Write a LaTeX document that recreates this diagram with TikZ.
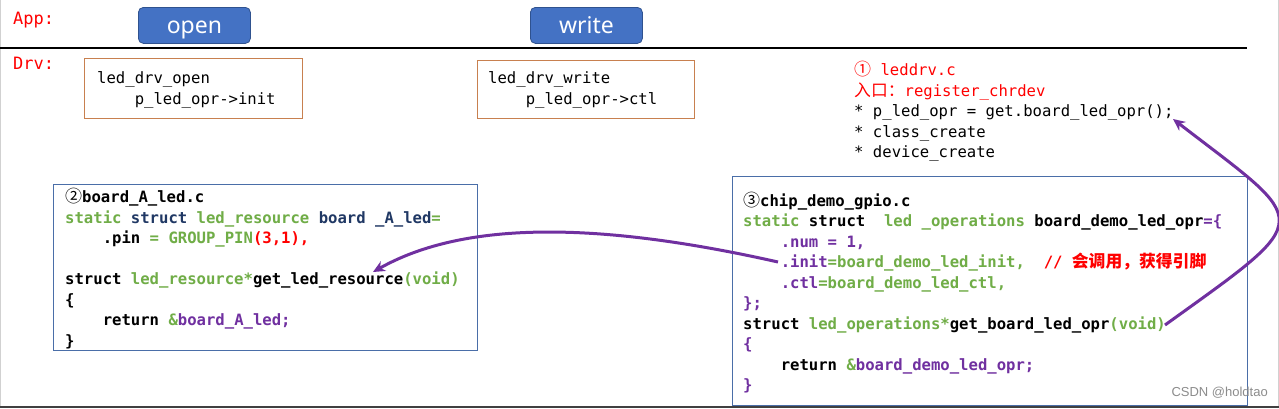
\documentclass[tikz,border=0pt]{standalone}
\usepackage{fontspec}
\usetikzlibrary{arrows.meta}
\newfontfamily\codefont{DejaVu Sans Mono}
\newfontfamily\cjk{Noto Sans CJK SC}
\newfontfamily\btnfont{Noto Sans}
\newfontfamily\wmfont{Liberation Sans}
\definecolor{cg}{HTML}{70AD47}
\definecolor{cn}{HTML}{203864}
\definecolor{cp}{HTML}{7030A0}
\definecolor{cr}{HTML}{FF0000}
\definecolor{btnblue}{HTML}{4472C4}
\definecolor{btnedge}{HTML}{2F528F}
\definecolor{orangeedge}{HTML}{C8804F}
\definecolor{blueedge}{HTML}{4A6EA8}
\newcommand\ind[1]{\phantom{#1}}
\newcommand\circnum[1]{{\cjk\mdseries\fontsize{17}{20.5}\selectfont #1}}
\newcommand\cjktext[1]{{\cjk\fontsize{16.8}{20.5}\selectfont #1}}
\begin{document}
\begin{tikzpicture}[x=1pt,y=-1pt,
  btn/.style={draw=btnedge, line width=0.8pt, fill=btnblue, rounded corners=5pt,
    minimum width=112pt, minimum height=36pt, anchor=north west, inner sep=0pt},
  btntext/.style={anchor=base, inner sep=0pt, text=white, font=\btnfont\fontsize{23}{26}\selectfont},
  label/.style={anchor=base west, inner sep=0pt, text=cr, font=\codefont\fontsize{17}{20}\selectfont},
  obox/.style={draw=orangeedge, line width=1.3pt, anchor=north west, inner sep=0pt},
  bbox/.style={draw=blueedge, line width=1.3pt, anchor=north west, inner sep=0pt},
  plaincode/.style={anchor=north west, inner sep=0pt, font=\codefont\fontsize{15.6}{20.5}\selectfont},
  boldcode/.style={anchor=north west, inner sep=0pt, font=\codefont\bfseries\fontsize{15.6}{20.5}\selectfont},
  arr/.style={draw=cp, line width=3pt, -{Stealth[length=12pt,width=11pt]}},
]
\useasboundingbox (0,0) rectangle (1279,408);
\fill[white] (0,0) rectangle (1279,408);
% slide frame
\draw[black!18, line width=1pt] (0.5,0) -- (0.5,408);
\draw[black!18, line width=1pt] (1278.5,0) -- (1278.5,408);
\fill[black!75] (0,406) rectangle (1279,408);

% App / Drv
\node[label] (app) at (13,24.5) {App:};
\node[label] (drv) at (13,69.5) {Drv:};
\draw[black, line width=2pt] (0,47.5) -- (1247,47.5);

% buttons
\node[btn] (openbtn) at (138,7) {};
\node[btntext] (opentxt) at (openbtn.center |- 0,33) {open};
\node[btn] (writebtn) at (530,7) {};
\node[btntext] (writetxt) at (writebtn.center |- 0,33) {write};

% driver boxes
\node[obox, minimum width=218pt, minimum height=60pt] (openbox) at (84,58) {};
\node[plaincode] (opencode) at (97,69.4) {\begin{tabular}{@{}l@{}}
led\_drv\_open\\
\ind{xxxx}p\_led\_opr->init
\end{tabular}};
\node[obox, minimum width=217pt, minimum height=58pt] (writebox) at (477,60) {};
\node[plaincode] (writecode) at (488,69.4) {\begin{tabular}{@{}l@{}}
led\_drv\_write\\
\ind{xxxx}p\_led\_opr->ctl
\end{tabular}};

% leddrv.c
\node[plaincode] (leddrv) at (854,61) {\begin{tabular}{@{}l@{}}
\textcolor{cr}{\circnum{①} leddrv.c}\\
\textcolor{cr}{\cjktext{入口：}register\_chrdev}\\
{*} p\_led\_opr = get.board\_led\_opr();\\
{*} class\_create\\
{*} device\_create
\end{tabular}};
\coordinate (oprref) at (1173,119);

% board_A_led.c
\node[bbox, minimum width=424pt, minimum height=166pt] (boxA) at (53,184) {};
\node[boldcode] (codeA) at (65,188.2) {\begin{tabular}{@{}l@{}}
\circnum{②}board\_A\_led.c\\
\textcolor{cg}{static} \textcolor{cn}{struct} \textcolor{cg}{led\_resource} \textcolor{cn}{board \_A\_led}\textcolor{cg}{=}\\
\ind{xxxx}.pin \textcolor{cg}{= GROUP\_PIN}\textcolor{cr}{(3,1),}\\
\\
struct \textcolor{cg}{led\_resource*}get\_led\_resource\textcolor{cg}{(void)}\\
\{\\
\ind{xxxx}return \textcolor{cg}{\&}\textcolor{cp}{board\_A\_led;}\\
\}
\end{tabular}};
\coordinate (getres) at (373,272);

% chip_demo_gpio.c
\node[bbox, minimum width=515pt, minimum height=229pt] (boxC) at (732,176) {};
\node[boldcode] (codeC) at (743,191.6) {\begin{tabular}{@{}l@{}}
\circnum{③}chip\_demo\_gpio.c\\
\textcolor{cg}{static} struct\ind{xx}\textcolor{cg}{led \_operations} board\_demo\_led\_opr\textcolor{cp}{=\{}\\
\ind{xxxx}\textcolor{cp}{.num = 1,}\\
\ind{xxxx}\textcolor{cp}{.init}\textcolor{cg}{=board\_demo\_led\_init,}\ind{xx}\textcolor{cr}{// \cjktext{会调用，获得引脚}}\\
\ind{xxxx}\textcolor{cp}{.ctl}\textcolor{cg}{=board\_demo\_led\_ctl,}\\
\textcolor{cp}{\};}\\
struct \textcolor{cg}{led\_operations*}get\_board\_led\_opr\textcolor{cg}{(void)}\\
\textcolor{cp}{\{}\\
\ind{xxxx}return \textcolor{cg}{\&}\textcolor{cp}{board\_demo\_led\_opr;}\\
\textcolor{cp}{\}}
\end{tabular}};
\coordinate (initref) at (778,262);
\coordinate (voidref) at (1165,325);

% arrows
\draw[arr] (initref) .. controls (600,222) and (465,220) .. (getres);
\draw[arr] (voidref) .. controls (1318,215) and (1312,226) .. (oprref);

% watermark
\node[anchor=base east, inner sep=0pt, text=black!45, font=\wmfont\fontsize{13}{15}\selectfont] (wm) at (1268,396) {CSDN @holdtao};
\end{tikzpicture}
\end{document}
